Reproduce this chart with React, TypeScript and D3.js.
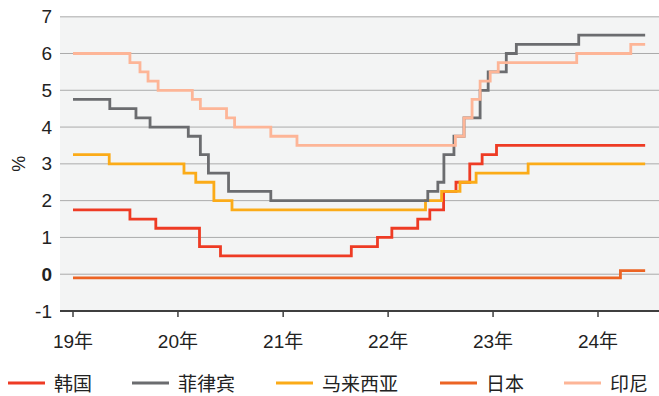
import React from "react";
import * as d3 from "d3";

type Step = [string, number];

// Policy-rate changes: [effective date, rate %]
const korea: Step[] = [
  ["2019-01-01", 1.75], ["2019-07-18", 1.5], ["2019-10-16", 1.25], ["2020-03-16", 0.75],
  ["2020-05-28", 0.5], ["2021-08-26", 0.75], ["2021-11-25", 1.0], ["2022-01-14", 1.25],
  ["2022-04-14", 1.5], ["2022-05-26", 1.75], ["2022-07-13", 2.25], ["2022-08-25", 2.5],
  ["2022-10-12", 3.0], ["2022-11-24", 3.25], ["2023-01-13", 3.5],
];
const philippines: Step[] = [
  ["2019-01-01", 4.75], ["2019-05-09", 4.5], ["2019-08-08", 4.25], ["2019-09-26", 4.0],
  ["2020-02-06", 3.75], ["2020-03-19", 3.25], ["2020-04-16", 2.75], ["2020-06-25", 2.25],
  ["2020-11-19", 2.0], ["2022-05-19", 2.25], ["2022-06-23", 2.5], ["2022-07-14", 3.25],
  ["2022-08-18", 3.75], ["2022-09-22", 4.25], ["2022-11-17", 5.0], ["2022-12-15", 5.5],
  ["2023-02-16", 6.0], ["2023-03-23", 6.25], ["2023-10-26", 6.5],
];
const malaysia: Step[] = [
  ["2019-01-01", 3.25], ["2019-05-07", 3.0], ["2020-01-22", 2.75], ["2020-03-03", 2.5],
  ["2020-05-05", 2.0], ["2020-07-07", 1.75], ["2022-05-11", 2.0], ["2022-07-06", 2.25],
  ["2022-09-08", 2.5], ["2022-11-03", 2.75], ["2023-05-03", 3.0],
];
const japan: Step[] = [["2019-01-01", -0.1], ["2024-03-19", 0.1]];
const indonesia: Step[] = [
  ["2019-01-01", 6.0], ["2019-07-18", 5.75], ["2019-08-22", 5.5], ["2019-09-19", 5.25],
  ["2019-10-24", 5.0], ["2020-02-20", 4.75], ["2020-03-19", 4.5], ["2020-06-18", 4.25],
  ["2020-07-16", 4.0], ["2020-11-19", 3.75], ["2021-02-18", 3.5], ["2022-08-23", 3.75],
  ["2022-09-22", 4.25], ["2022-10-20", 4.75], ["2022-11-17", 5.25], ["2022-12-22", 5.5],
  ["2023-01-19", 5.75], ["2023-10-19", 6.0], ["2024-04-24", 6.25],
];

const lastDate = "2024-06-13";
const yearTicks = ["2019-01-01", "2020-01-01", "2021-01-01", "2022-01-01", "2023-01-01", "2024-01-01"];
const yearLabels = ["19年", "20年", "21年", "22年", "23年", "24年"];
const rateTicks = [-1, 0, 1, 2, 3, 4, 5, 6, 7];

const seriesNames = ["韩国", "菲律宾", "马来西亚", "日本", "印尼"];
const seriesColors = ["#ee3b24", "#6b6c6f", "#fbab18", "#ec6424", "#fdb597"];
const seriesData = [korea, philippines, malaysia, japan, indonesia];
// drawing order (back to front)
const drawOrder = [3, 0, 2, 1, 4];

const W = 659;
const H = 396;
const FONT = "'Liberation Sans', 'Noto Sans CJK SC', sans-serif";

export default function App() {
  const parse = d3.timeParse("%Y-%m-%d");
  const left = 60;
  const top = 16.7;
  const bottom = 311;

  const x = d3
    .scaleTime()
    .domain([parse("2019-01-01")!, parse("2024-01-01")!])
    .range([73, 598]);
  const y = d3.scaleLinear().domain([-1, 7]).range([bottom, top]);

  const line = d3
    .line<[Date, number]>()
    .x((d) => x(d[0]))
    .y((d) => y(d[1]))
    .curve(d3.curveStepAfter);

  const toPoints = (s: Step[]): [Date, number][] => {
    const pts: [Date, number][] = s.map(([d, v]) => [parse(d)!, v]);
    pts.push([parse(lastDate)!, s[s.length - 1][1]]);
    return pts;
  };

  // legend layout: swatch, gap, label, spacing
  let cursor = 8;
  const legendItems = seriesNames.map((name, i) => {
    const item = { name, color: seriesColors[i], x: cursor };
    cursor += 37 + 9 + name.length * 20 + 38;
    return item;
  });

  return (
    <svg
      width={W}
      height={H}
      style={{ position: "absolute", left: 0, top: 0, background: "#fff" }}
      fontFamily={FONT}
    >
      <rect x={left} y={top} width={W - left} height={bottom - top} fill="#f3f4f4" />

      {rateTicks
        .filter((t) => t > -1)
        .map((t) => (
          <line
            key={t}
            x1={left}
            x2={W}
            y1={y(t)}
            y2={y(t)}
            stroke={t === 7 ? "#c4c4c4" : "#ababab"}
            strokeWidth={t === 7 ? 1.5 : 1}
          />
        ))}

      {rateTicks.map((t) => (
        <text
          key={t}
          x={52}
          y={y(t)}
          textAnchor="end"
          dominantBaseline="central"
          fontSize={19}
          fontWeight={t === 0 ? 700 : 400}
          fill="#222"
        >
          {t}
        </text>
      ))}

      <text
        transform={`translate(19,${y(3)}) rotate(-90)`}
        textAnchor="middle"
        dominantBaseline="central"
        fontSize={18}
        fill="#222"
      >
        %
      </text>

      {drawOrder.map((i) => (
        <path
          key={seriesNames[i]}
          d={line(toPoints(seriesData[i])) || ""}
          fill="none"
          stroke={seriesColors[i]}
          strokeWidth={2.8}
          strokeLinejoin="miter"
        />
      ))}

      <line x1={left} x2={W} y1={bottom} y2={bottom} stroke="#3f3f3f" strokeWidth={2} />
      {yearTicks.map((d, i) => {
        const px = x(parse(d)!);
        return (
          <g key={d}>
            <line x1={px} x2={px} y1={bottom} y2={bottom + 6} stroke="#3f3f3f" strokeWidth={1.5} />
            <text x={px} y={341} textAnchor="middle" dominantBaseline="central" fontSize={19} fill="#222">
              {yearLabels[i]}
            </text>
          </g>
        );
      })}

      {legendItems.map((it) => (
        <g key={it.name}>
          <line x1={it.x} x2={it.x + 37} y1={383} y2={383} stroke={it.color} strokeWidth={3} />
          <text x={it.x + 46} y={384} dominantBaseline="central" fontSize={19} fill="#222">
            {it.name}
          </text>
        </g>
      ))}
    </svg>
  );
}
